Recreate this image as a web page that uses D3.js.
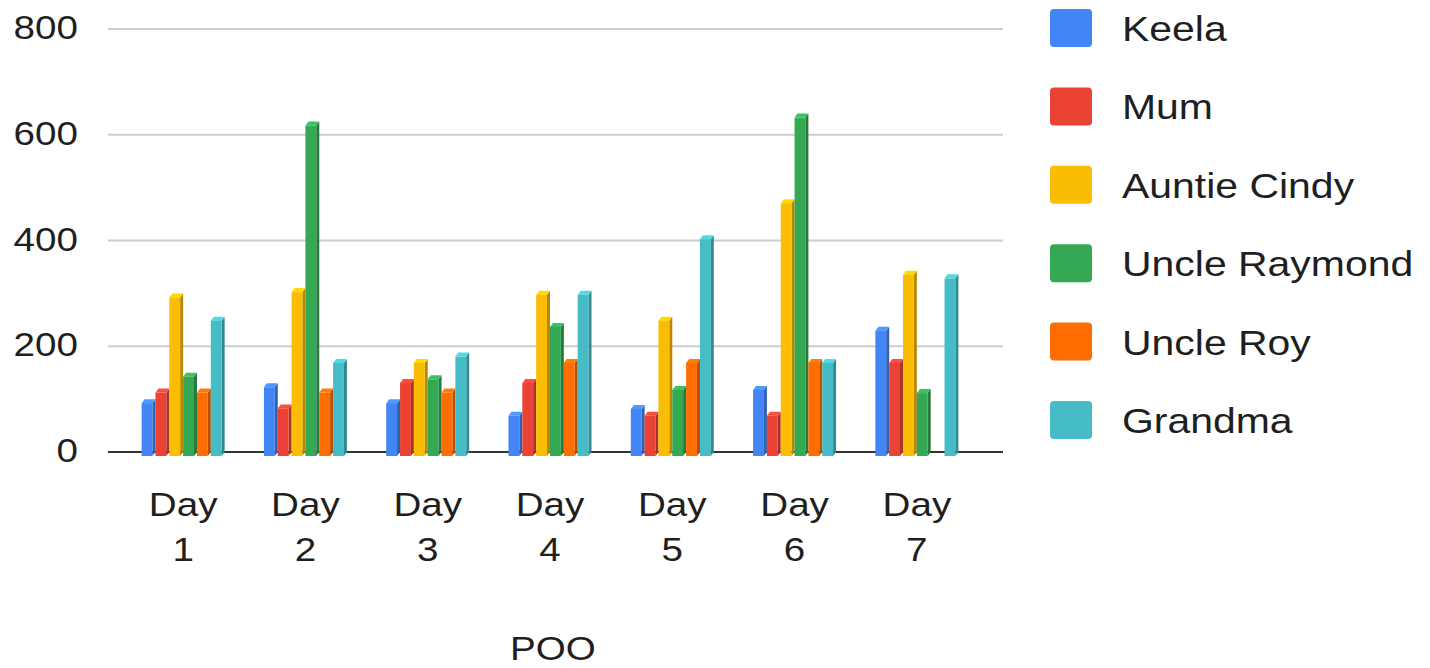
<!DOCTYPE html>
<html>
<head>
<meta charset="utf-8">
<script src="https://cdn.jsdelivr.net/npm/d3@7/dist/d3.min.js"></script>
<style>
  html, body { margin: 0; padding: 0; background: #fff; }
  svg { display: block; font-family: "Liberation Sans", Arial, sans-serif; }
</style>
</head>
<body>
<svg id="chart" width="1430" height="668"></svg>
<script>
const categories = ["Day 1", "Day 2", "Day 3", "Day 4", "Day 5", "Day 6", "Day 7"];
const seriesNames = ["Keela", "Mum", "Auntie Cindy", "Uncle Raymond", "Uncle Roy", "Grandma"];
const keela        = [100, 130, 100, 76, 89, 125, 237];
const mum          = [120, 90, 138, 138, 76, 76, 176];
const auntieCindy  = [300, 310, 176, 305, 256, 478, 343];
const uncleRaymond = [150, 625, 145, 244, 125, 640, 119];
const uncleRoy     = [120, 120, 120, 176, 176, 176, 0];
const grandma      = [256, 176, 188, 305, 410, 176, 336];
const yTicks = [0, 200, 400, 600, 800];
const xTitle = "POO";
const colors = ["#4285F4", "#EA4335", "#FBBC04", "#34A853", "#FF6D01", "#46BDC6"];

const seriesValues = [keela, mum, auntieCindy, uncleRaymond, uncleRoy, grandma];

const svg = d3.select("#chart");
const gridX0 = 108, gridX1 = 1003;
const depthX = 3, depthY = 4;
const stretch = 1.17;   // the reference's text is wider than plain Arial

const y = d3.scaleLinear().domain([0, 800]).range([452, 29]);
const x = d3.scaleBand().domain(categories).range([122, 978]).padding(0);
const groupW = 83;
const sub = d3.scaleBand().domain(seriesNames).range([0, groupW]).padding(0);

function wideText(parent, tx, ty, txt, size, anchor) {
  return parent.append("text")
    .attr("transform", `translate(${tx},${ty}) scale(${stretch},1)`)
    .attr("text-anchor", anchor)
    .attr("font-size", size)
    .attr("fill", "#1f1f1f")
    .text(txt);
}

// gridlines
svg.append("g").selectAll("line").data(yTicks.filter(t => t !== 0)).join("line")
  .attr("x1", gridX0).attr("x2", gridX1)
  .attr("y1", d => y(d)).attr("y2", d => y(d))
  .attr("stroke", "#cccccc").attr("stroke-width", 2);

// y axis labels (ticks from the scale)
const yl = svg.append("g");
y.ticks(4).forEach(t => {
  wideText(yl, 78, y(t) + 10, d3.format("d")(t), 33, "end");
});

// baseline
svg.append("line").attr("x1", gridX0).attr("x2", gridX1)
  .attr("y1", y(0)).attr("y2", y(0)).attr("stroke", "#333").attr("stroke-width", 2);

// bars (pseudo 3D)
const bars = [];
categories.forEach((c, ci) => {
  seriesNames.forEach((s, si) => {
    bars.push({ c, s, si, v: seriesValues[si][ci] });
  });
});

const slot = sub.bandwidth();
const frontW = slot - depthX;
const barG = svg.append("g");
bars.forEach(b => {
  if (b.v <= 0) return;
  const x0 = x(b.c) + (x.bandwidth() - groupW) / 2 + sub(b.s);
  const yt = y(b.v), yb = y(0);
  const col = d3.color(colors[b.si]);
  const g = barG.append("g");
  g.append("path")
    .attr("d", `M${x0 + frontW},${yt + depthY} L${x0 + frontW + depthX},${yt} L${x0 + frontW + depthX},${yb} L${x0 + frontW},${yb + depthY} Z`)
    .attr("fill", col.darker(0.9));
  g.append("path")
    .attr("d", `M${x0},${yt + depthY} L${x0 + depthX},${yt} L${x0 + frontW + depthX},${yt} L${x0 + frontW},${yt + depthY} Z`)
    .attr("fill", col.brighter(0.4));
  g.append("rect")
    .attr("x", x0).attr("y", yt + depthY)
    .attr("width", frontW).attr("height", yb - yt)
    .attr("fill", col);
});

// x labels
const xl = svg.append("g");
categories.forEach(c => {
  const cx = x(c) + x.bandwidth() / 2;
  const parts = c.split(" ");
  wideText(xl, cx, 516, parts[0], 33, "middle");
  wideText(xl, cx, 561, parts[1], 33, "middle");
});

// x title
wideText(svg, 553, 660, xTitle, 33, "middle");

// legend
const leg = svg.append("g");
const legY = d3.scalePoint().domain(seriesNames).range([28, 420]);
seriesNames.forEach((s, i) => {
  const cy = legY(s);
  leg.append("rect").attr("x", 1050).attr("y", cy - 19).attr("width", 42).attr("height", 38)
    .attr("rx", 4).attr("fill", colors[i]);
  wideText(leg, 1122, cy + 13, s, 35, "start");
});
</script>
</body>
</html>
